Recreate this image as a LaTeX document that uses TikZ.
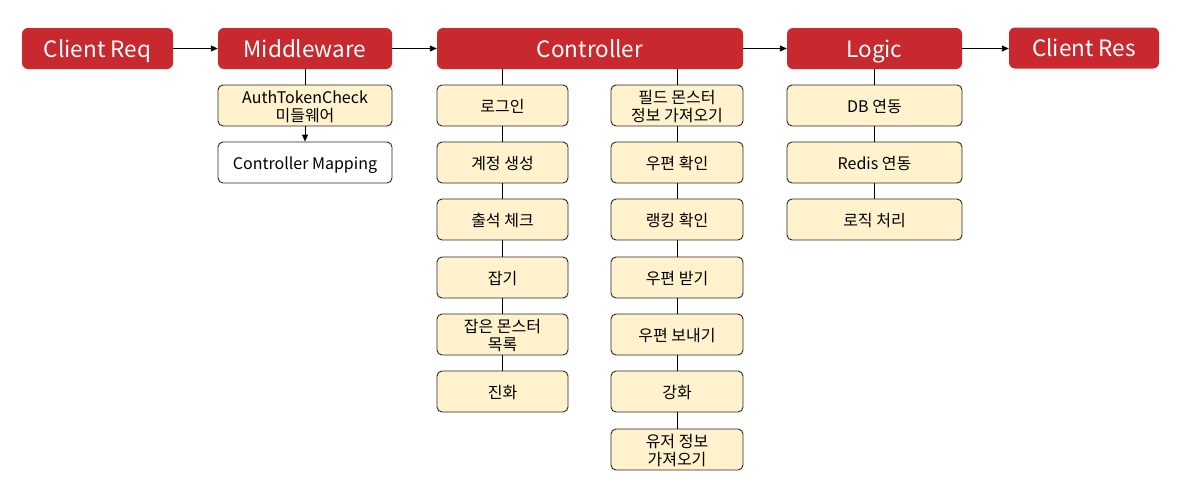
\documentclass[tikz,border=0pt]{standalone}
\usepackage{fontspec}
\setmainfont{Noto Sans CJK KR}
\usetikzlibrary{arrows.meta}
\definecolor{hdr}{RGB}{200,41,47}
\definecolor{cream}{RGB}{255,242,204}
\definecolor{edge}{RGB}{40,40,40}
\newcommand\lo[1]{\raisebox{-3pt}[\height][\depth]{\begin{tabular}{@{}c@{}}#1\end{tabular}}}
\tikzset{
  hdrbox/.style={fill=hdr, draw=none, rounded corners=6pt, text=white, font=\fontsize{22.5}{26}\selectfont, inner sep=0pt, text height=17pt, text depth=0pt},
  subbox/.style={fill=cream, draw=edge, line width=0.9pt, rounded corners=5pt, font=\fontsize{16}{17}\selectfont, inner sep=0pt},
  whitebox/.style={subbox, fill=white},
  link/.style={draw=black, line width=0.9pt},
  flow/.style={link, -{Triangle[length=7pt,width=6pt]}},
}
\begin{document}
\begin{tikzpicture}[x=1pt,y=-1pt]
\useasboundingbox (0,0) rectangle (1191,491);
% headers
\node[hdrbox, minimum width=151pt, minimum height=41pt] (req) at (97.5,48.5) {Client Req};
\node[hdrbox, minimum width=174pt, minimum height=41pt] (mw) at (305,48.5) {Middleware};
\node[hdrbox, minimum width=306pt, minimum height=41pt] (ctl) at (590,48.5) {Controller};
\node[hdrbox, minimum width=175pt, minimum height=41pt] (lg) at (874.5,48.5) {Logic};
\node[hdrbox, minimum width=150pt, minimum height=41pt] (res) at (1084,48) {Client Res};
\draw[flow] (req) -- (mw);
\draw[flow] (mw) -- (ctl);
\draw[flow] (ctl) -- (lg);
\draw[flow] (lg.east) -- (res.west |- lg.east);
% middleware column
\node[subbox, minimum width=174pt, minimum height=41pt] (auth) at (305,105.5) {\lo{AuthTokenCheck\\미들웨어}};
\node[whitebox, minimum width=174pt, minimum height=41pt] (map) at (305,162.5) {\lo{Controller Mapping}};
\draw[link] (mw) -- (auth);
\draw[flow] (auth) -- (map);
% controller left column
\foreach \n/\y/\t in {c1/105.5/로그인, c2/162.5/계정 생성, c3/219.5/출석 체크, c4/277.5/잡기, c5/334.5/{잡은 몬스터\\목록}, c6/391.5/진화}
  \node[subbox, minimum width=131pt, minimum height=41pt] (\n) at (502.5,\y) {\lo{\t}};
\draw[link] (ctl.south -| c1) -- (c1);
\foreach \a/\b in {c1/c2, c2/c3, c3/c4, c4/c5, c5/c6} \draw[link] (\a) -- (\b);
% controller right column
\foreach \n/\y/\t in {d1/105.5/{필드 몬스터\\정보 가져오기}, d2/162.5/우편 확인, d3/219.5/랭킹 확인, d4/277.5/우편 받기, d5/334.5/우편 보내기, d6/391.5/강화, d7/449.5/{유저 정보\\가져오기}}
  \node[subbox, minimum width=132pt, minimum height=41pt] (\n) at (677,\y) {\lo{\t}};
\draw[link] (ctl.south -| d1) -- (d1);
\foreach \a/\b in {d1/d2, d2/d3, d3/d4, d4/d5, d5/d6, d6/d7} \draw[link] (\a) -- (\b);
% logic column
\foreach \n/\y/\t in {l1/105.5/DB 연동, l2/162.5/Redis 연동, l3/219.5/로직 처리}
  \node[subbox, minimum width=175pt, minimum height=41pt] (\n) at (874.5,\y) {\lo{\t}};
\draw[link] (lg) -- (l1);
\draw[link] (l1) -- (l2);
\draw[link] (l2) -- (l3);
\end{tikzpicture}
\end{document}
